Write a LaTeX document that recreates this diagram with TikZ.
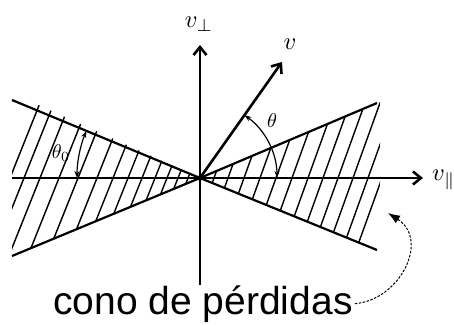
\documentclass[tikz,border=0pt]{standalone}
\usepackage{fontspec}
\usepackage{graphicx}
\setsansfont{Liberation Sans}
\usetikzlibrary{arrows.meta}
\newcommand{\vlab}[1]{\scalebox{2.45}{$#1$}}
\newcommand{\thlab}[1]{\scalebox{2.0}{$#1$}}
\begin{document}
\begin{tikzpicture}[x=1pt,y=-1pt,
  axis/.style={line width=2.6pt,-{Straight Barb[length=8pt,width=13pt]}},
  conel/.style={line width=2.2pt},
  hatch/.style={line width=1.4pt},
  angarr/.style={line width=1.2pt,{Stealth[length=7pt,width=5pt]}-{Stealth[length=7pt,width=5pt]}},
  lab/.style={inner sep=0pt},
  bigtext/.style={font=\sffamily\fontsize{39}{41}\selectfont, inner sep=2pt, anchor=base}]
\useasboundingbox (0,0) rectangle (454,324);
\fill[white] (0,0) rectangle (454,324);
\coordinate (O) at (200,178);
\coordinate (UL) at (12,100);
\coordinate (LL) at (12,256);
\coordinate (UR) at (377,103);
\coordinate (LR) at (377,250);
\coordinate (VB) at (200,285);
\coordinate (VT) at (200,45);
\coordinate (HL) at (12,178);
\coordinate (HR) at (423,178);
\coordinate (V) at (282,62);
\coordinate (E) at (388,213);
% hatching
\begin{scope}
  \clip (O) -- (380,102) -- (380,252) -- cycle;
  \foreach \x in {214,228,244,260,276,292,308,323,338,353,368,382}
    \draw[hatch] (\x-45,303) -- (\x+45,53);
\end{scope}
\begin{scope}
  \clip (O) -- (12,93) -- (12,256) -- cycle;
  \foreach \x in {188,178,167,155,142,128,113,97,78,59,40,24,10}
    \draw[hatch] (\x-50,303) -- (\x+50,53);
\end{scope}
% cone lines
\draw[conel] (UL) -- (O) -- (LR);
\draw[conel] (LL) -- (O) -- (UR);
% axes
\draw[axis] (VB) -- (VT);
\draw[axis] (HL) -- (HR);
\draw[axis] (O) -- (V);
\fill (O) circle (2.8pt);
% angles
\draw[angarr] ([shift={(-54.7:77)}]O) arc[start angle=-54.7, end angle=0, radius=77];
\draw[angarr] ([shift={(202.5:123)}]O) arc[start angle=202.5, end angle=180, radius=123];
% labels
\node[lab] (lperp) at (199,24) {\vlab{v_\perp}};
\node[lab] (lv) at (290,44) {\vlab{v}};
\node[lab, anchor=west] (lpar) at (432,180) {\vlab{v_\parallel}};
\node[lab] (lth) at (272,121) {\thlab{\theta}};
\node[lab] (lth0) at (61,153) {\thlab{\theta_0}};
\node[bigtext] (T) at (203,314) {cono de pérdidas};
\draw[line width=1pt, dash pattern=on 2.5pt off 1.5pt, -{Latex[length=12pt,width=9pt]}]
  (T.east) .. controls (400,300) and (430,240) .. (E);
\end{tikzpicture}
\end{document}
